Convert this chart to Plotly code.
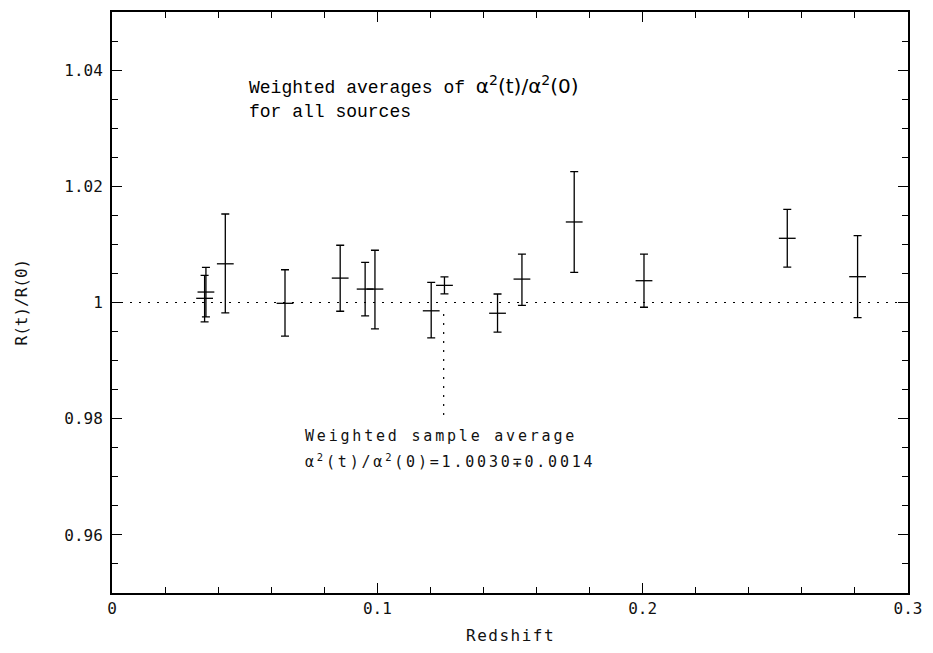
import plotly.graph_objects as go

# ---- data ----
redshift = [0.0349, 0.0354, 0.0427, 0.0652, 0.0860, 0.0954, 0.0991, 0.1203,
            0.1253, 0.1453, 0.1545, 0.1742, 0.2005, 0.2545, 0.2810]
ratio = [1.00072, 1.00180, 1.00666, 0.99986, 1.00420, 1.00231, 1.00231, 0.99857,
         1.00295, 0.99815, 1.00403, 1.01386, 1.00375, 1.01105, 1.00444]
upper = [1.00466, 1.00603, 1.01523, 1.00564, 1.00985, 1.00689, 1.00899, 1.00346,
         1.00440, 1.00146, 1.00831, 1.02253, 1.00831, 1.01602, 1.01151]
lower = [0.99666, 0.99752, 0.99820, 0.99421, 0.99849, 0.99769, 0.99546, 0.99391,
         1.00150, 0.99490, 0.99952, 1.00517, 0.99918, 1.00608, 0.99741]

x_ticks = [0, 0.1, 0.2, 0.3]
x_tick_labels = ["0", "0.1", "0.2", "0.3"]
y_ticks = [0.96, 0.98, 1.0, 1.02, 1.04]
y_tick_labels = ["0.96", "0.98", "1", "1.02", "1.04"]

reference_level = 1.0
sample_avg_z = 0.125
sample_line_y = [0.998, 0.980]

err_plus = [u - r for u, r in zip(upper, ratio)]
err_minus = [r - l for r, l in zip(ratio, lower)]

MONO = "DejaVu Sans Mono"
fig = go.Figure()

fig.add_trace(go.Scatter(
    x=redshift, y=ratio, mode="markers",
    marker=dict(symbol="line-ew", size=12, color="black",
                line=dict(color="black", width=1.3)),
    error_y=dict(type="data", symmetric=False, array=err_plus,
                 arrayminus=err_minus, color="black", thickness=1.3, width=4),
    showlegend=False, hoverinfo="x+y",
))

# horizontal dotted line at R=1
fig.add_trace(go.Scatter(
    x=[0, 0.3], y=[reference_level, reference_level], mode="lines",
    line=dict(color="black", width=1.2, dash="2px,7px"),
    showlegend=False, hoverinfo="skip",
))
# vertical dotted line pointing to the sample average label
fig.add_trace(go.Scatter(
    x=[sample_avg_z, sample_avg_z], y=sample_line_y, mode="lines",
    line=dict(color="black", width=1.2, dash="2px,7px"),
    showlegend=False, hoverinfo="skip",
))

upper_font = dict(family="Liberation Mono", size=18, color="black")
alpha_span = ('<span style="font-family:DejaVu Sans;font-size:20px">'
              '&#945;<sup>2</sup>(t)/&#945;<sup>2</sup>(0)</span>')
fig.add_annotation(x=0.0508, y=1.0374, xref="x", yref="y", xanchor="left", yanchor="middle",
                   text="Weighted averages of " + alpha_span, showarrow=False, font=upper_font)
fig.add_annotation(x=0.0508, y=1.03275, xref="x", yref="y", xanchor="left", yanchor="middle",
                   text="for all sources", showarrow=False, font=upper_font)

lower_font = dict(family=MONO, size=15, color="#111")
fig.add_annotation(x=0.0719, y=0.97708, xref="x", yref="y", xanchor="left", yanchor="middle",
                   text='<span style="letter-spacing:2.8px">Weighted sample average</span>',
                   showarrow=False, font=lower_font)
fig.add_annotation(x=0.0719, y=0.9727, xref="x", yref="y", xanchor="left", yanchor="middle",
                   text='<span style="letter-spacing:2.8px">&#945;<sup>2</sup>(t)/&#945;<sup>2</sup>(0)=1.0030&#8723;0.0014</span>',
                   showarrow=False, font=lower_font)

# axis titles
fig.add_annotation(x=0.5, y=0, xref="paper", yref="paper", xanchor="center", yanchor="middle",
                   yshift=-42, text='<span style="letter-spacing:1.5px">Redshift</span>',
                   showarrow=False, font=dict(family=MONO, size=16, color="#111"))
fig.add_annotation(x=0, y=0.5, xref="paper", yref="paper", xanchor="center", yanchor="middle",
                   xshift=-91, textangle=-90, text="R(t)/R(0)",
                   showarrow=False, font=dict(family=MONO, size=16, color="#111"))

axis_common = dict(showline=True, linecolor="black", linewidth=1.5, mirror="allticks",
                   ticks="inside", ticklen=10, tickwidth=1.2, tickcolor="black",
                   showgrid=False, zeroline=False,
                   tickfont=dict(family=MONO, size=16, color="#111"))

y_tick_text = [t + '<span style="font-size:7px">&nbsp;</span>' for t in y_tick_labels]

fig.update_xaxes(range=[0, 0.3], tickvals=x_ticks, ticktext=x_tick_labels,
                 minor=dict(dtick=0.02, tick0=0, ticks="inside", ticklen=6, tickwidth=1.2,
                            tickcolor="black", showgrid=False),
                 **axis_common)
fig.update_yaxes(range=[0.95, 1.05], tickvals=y_ticks, ticktext=y_tick_text,
                 minor=dict(dtick=0.005, tick0=0.95, ticks="inside", ticklen=6, tickwidth=1.2,
                            tickcolor="black", showgrid=False),
                 **axis_common)

fig.update_layout(
    width=933, height=653,
    margin=dict(l=112, r=25, t=10, b=60),
    plot_bgcolor="white", paper_bgcolor="white",
)

fig.write_html("out.html")
